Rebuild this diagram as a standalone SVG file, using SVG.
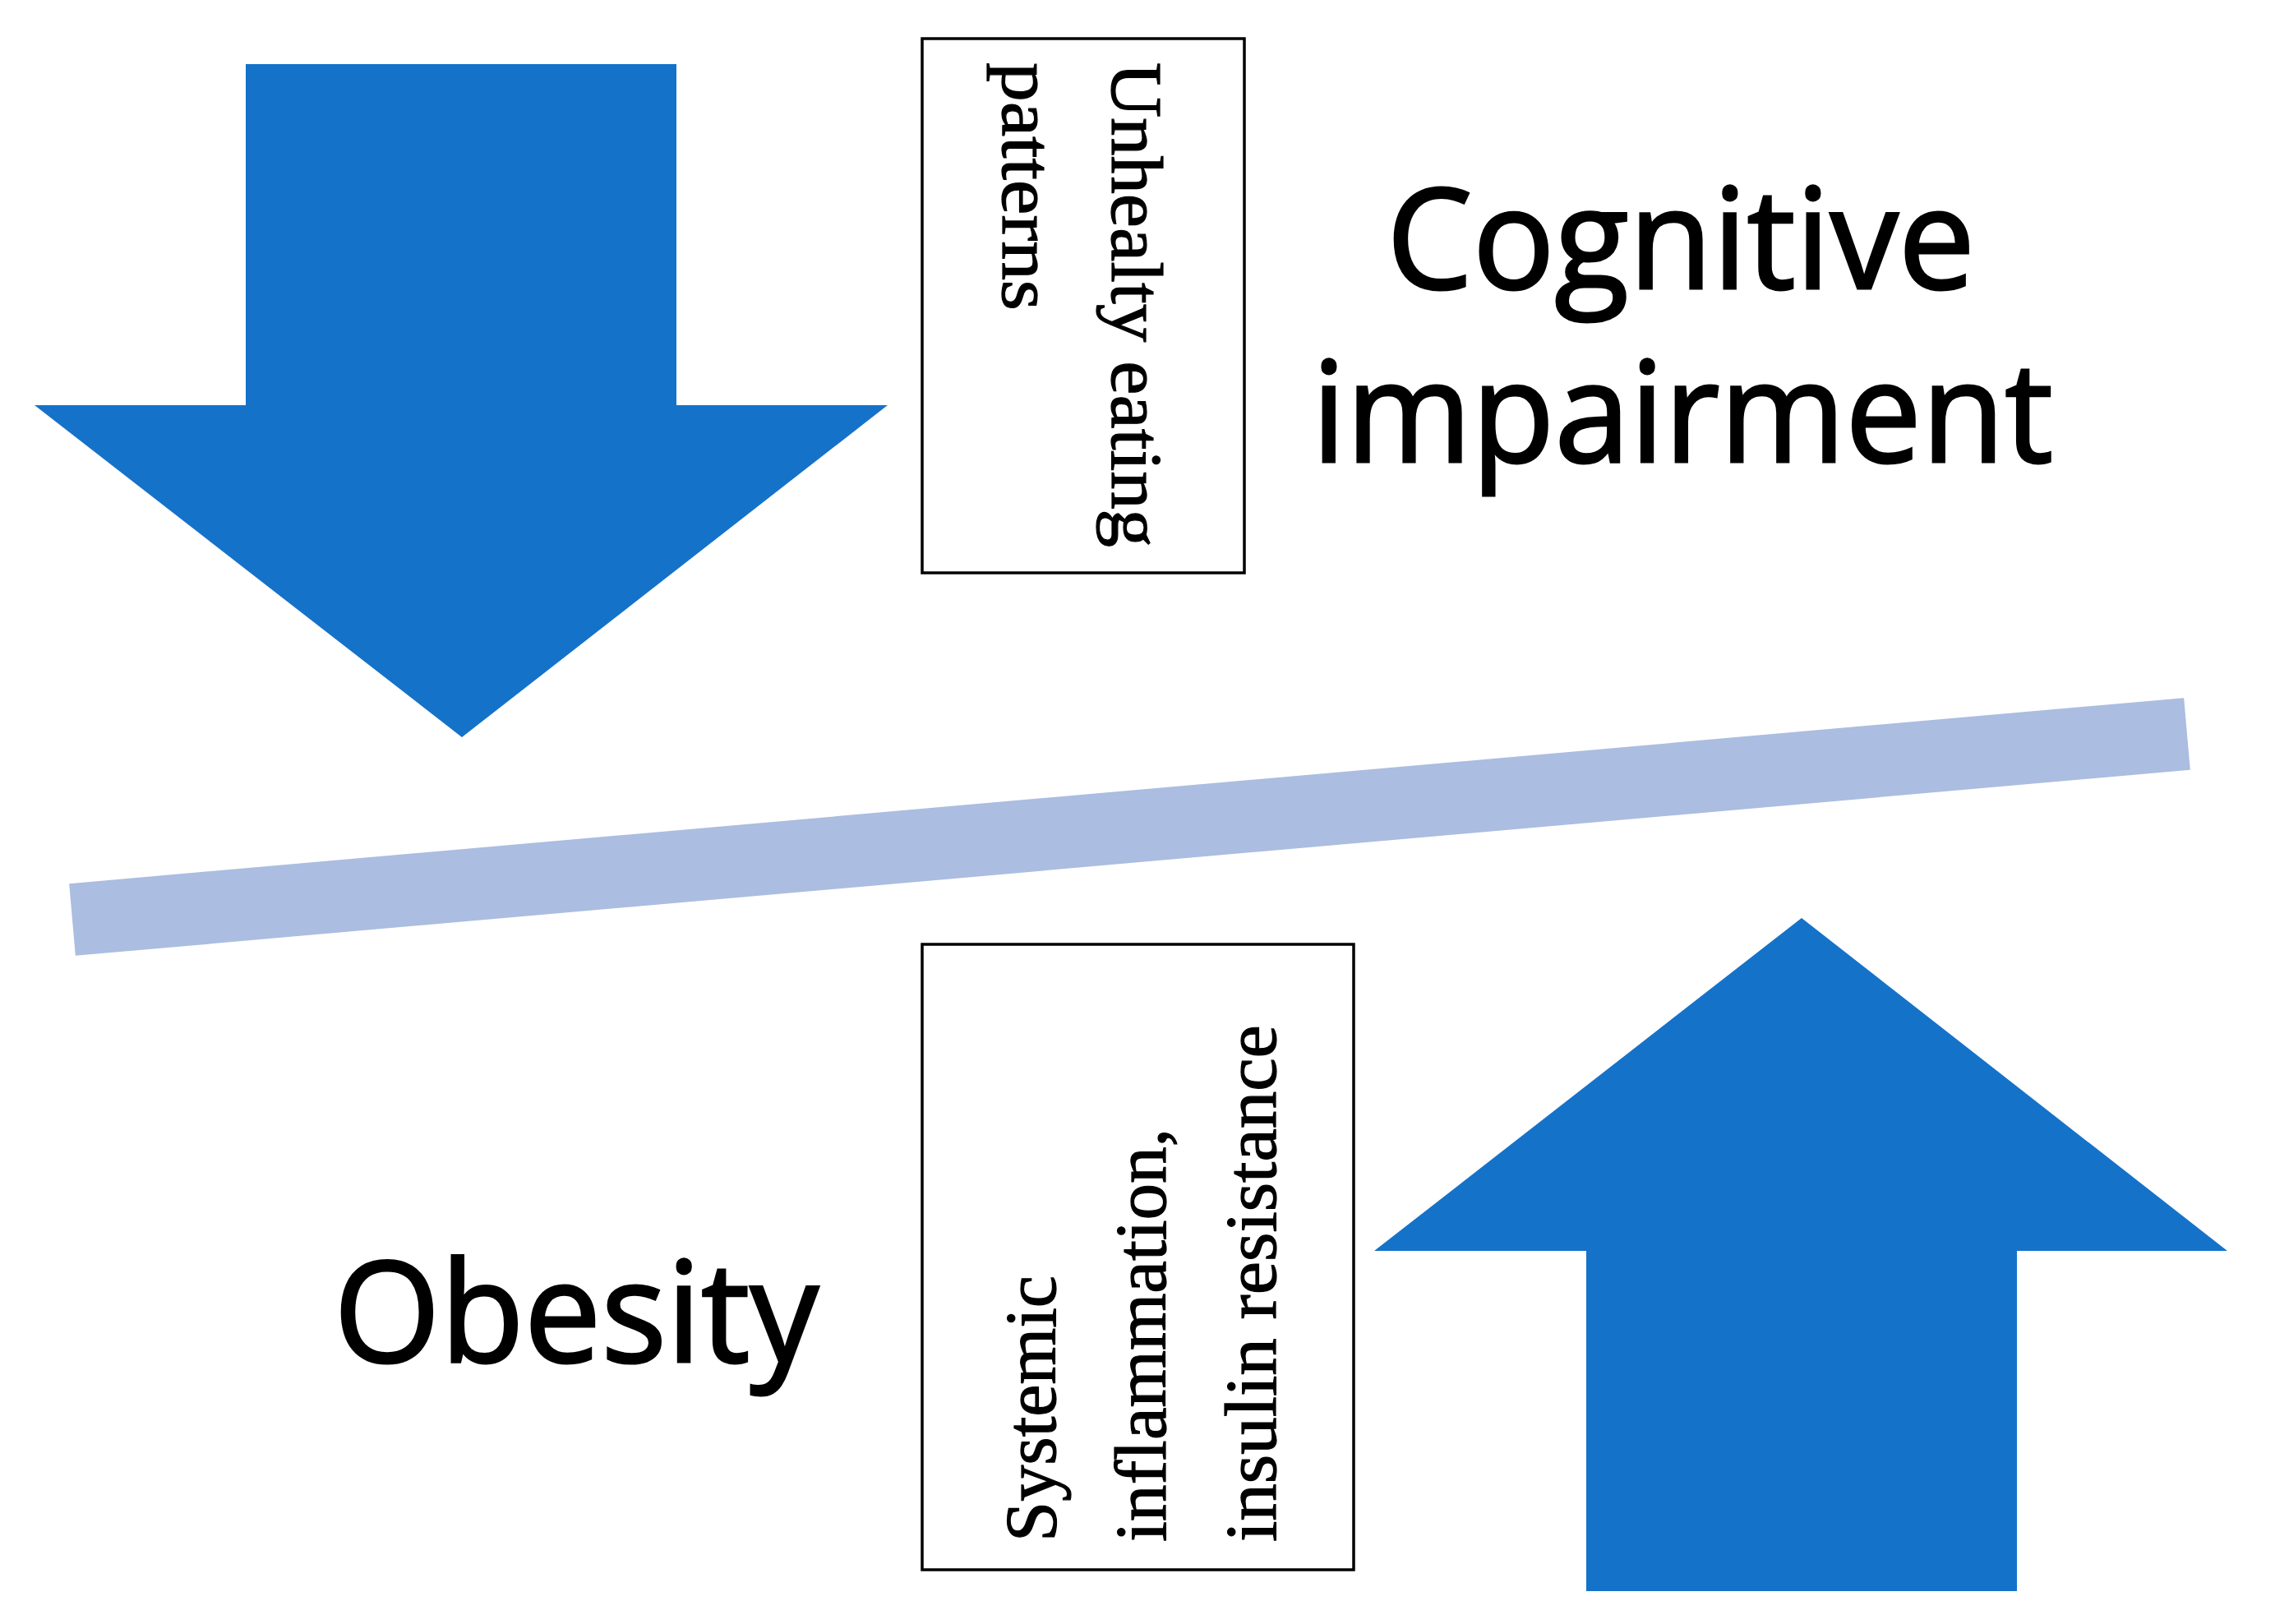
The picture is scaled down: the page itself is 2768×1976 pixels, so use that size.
<svg xmlns="http://www.w3.org/2000/svg" width="2768" height="1976" viewBox="0 0 2768 1976">
  <style>
    .arrow { fill: #1572C9; }
    .bar { stroke: #ABBDE0; stroke-width: 88; fill: none; stroke-linecap: butt; }
    .box { fill: #FFFFFF; stroke: #000000; stroke-width: 3.5; }
    .serif { font-family: "Liberation Serif", "DejaVu Serif", serif; font-size: 89px; fill: #000000; stroke: #000000; stroke-width: 1.2; }
    .big { font-family: "Open Sans", "Noto Sans", "Liberation Sans", sans-serif; font-size: 170px; fill: #000000; stroke: #000000; stroke-width: 3; }
  </style>
  <rect x="0" y="0" width="2768" height="1976" fill="#FFFFFF"/>

  <g id="connectors">
    <line id="balance-bar" class="bar" x1="88" y1="1119" x2="2661" y2="893"/>
    <polygon id="arrow-down" class="arrow" points="299,78 823,78 823,493 1080,493 562,897 42,493 299,493"/>
    <polygon id="arrow-up" class="arrow" points="1930,1936 2454,1936 2454,1522 2710,1522 2192,1117 1672,1522 1930,1522"/>
  </g>

  <g id="node-unhealthy-eating">
    <rect class="box" x="1122" y="47" width="392" height="650"/>
    <text class="serif" transform="translate(1353,76) rotate(90)" x="0" y="0" textLength="590" lengthAdjust="spacingAndGlyphs">Unhealty eating</text>
    <text class="serif" transform="translate(1220,76) rotate(90)" x="0" y="0" textLength="302" lengthAdjust="spacingAndGlyphs">patterns</text>
  </g>

  <g id="node-cognitive-impairment">
    <text class="big" x="1687" y="351" textLength="716" lengthAdjust="spacingAndGlyphs">Cognitive</text>
    <text class="big" x="1596" y="562" textLength="902" lengthAdjust="spacingAndGlyphs">impairment</text>
  </g>

  <g id="node-obesity">
    <text class="big" x="406" y="1657" textLength="590" lengthAdjust="spacingAndGlyphs">Obesity</text>
  </g>

  <g id="node-systemic-inflammation">
    <rect class="box" x="1122" y="1149" width="525" height="761"/>
    <text class="serif" transform="translate(1284,1876) rotate(-90)" x="0" y="0" textLength="324" lengthAdjust="spacingAndGlyphs">Systemic</text>
    <text class="serif" transform="translate(1418,1876) rotate(-90)" x="0" y="0" textLength="503" lengthAdjust="spacingAndGlyphs">inflammation,</text>
    <text class="serif" transform="translate(1552,1876) rotate(-90)" x="0" y="0" textLength="629" lengthAdjust="spacingAndGlyphs">insulin resistance</text>
  </g>
</svg>
